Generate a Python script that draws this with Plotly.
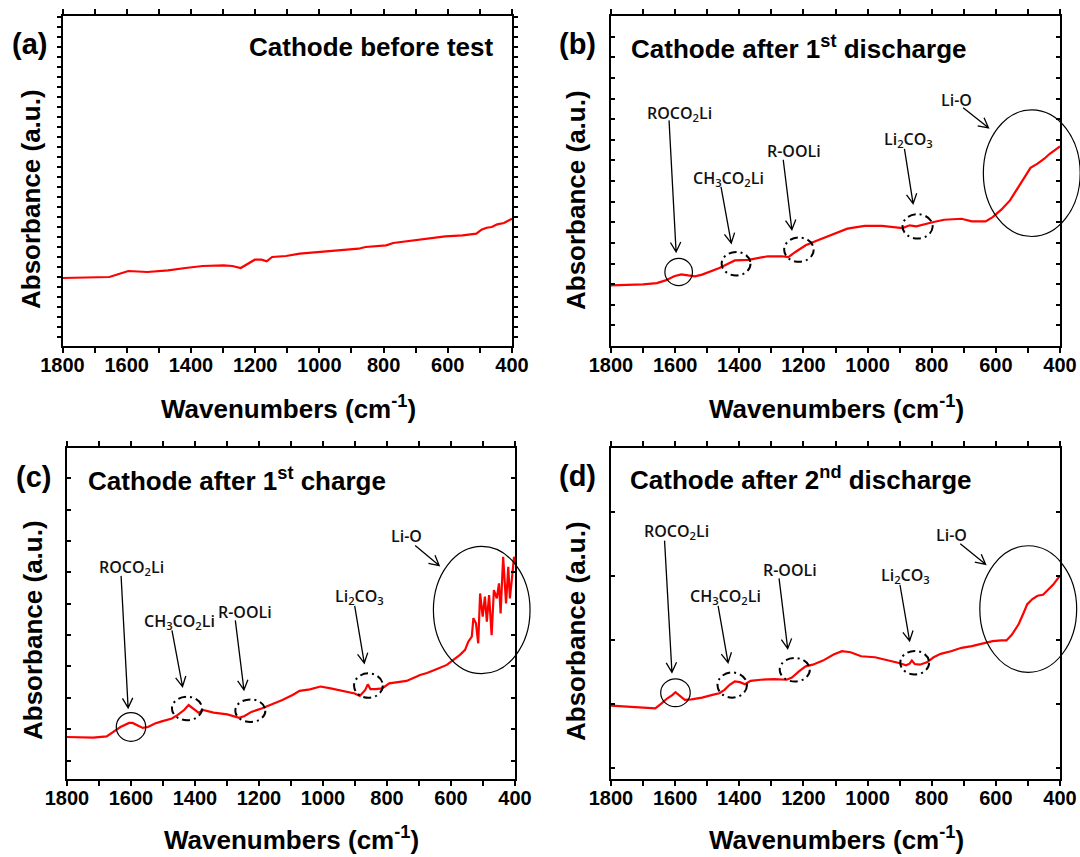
import math
import plotly.graph_objects as go

W, H = 1080, 857

# ---------------- data ----------------
wn_a = [1800, 1654, 1627, 1595, 1536, 1471, 1417, 1363, 1298, 1271, 1245, 1223, 1201, 1180,
        1164, 1147, 1104, 1061, 975, 878, 856, 792, 770, 705, 641, 608, 554, 511, 495, 479,
        463, 446, 425, 400]
abs_a = [6.80, 6.90, 7.17, 7.50, 7.40, 7.57, 7.80, 8.00, 8.07, 8.00, 7.80, 8.23, 8.63, 8.63,
         8.47, 8.90, 9.00, 9.23, 9.50, 9.73, 9.90, 10.07, 10.30, 10.57, 10.77, 10.97, 11.07,
         11.23, 11.63, 11.83, 11.90, 12.17, 12.30, 12.73]

wn_b = [1800, 1700, 1657, 1630, 1603, 1581, 1559, 1538, 1516, 1489, 1462, 1435, 1414, 1371,
        1355, 1311, 1268, 1247, 1225, 1193, 1161, 1117, 1063, 1009, 955, 891, 869, 848, 826,
        794, 761, 707, 675, 632, 610, 583, 556, 535, 513, 492, 470, 449, 432, 416, 400]
abs_b = [2.94, 2.99, 3.05, 3.18, 3.38, 3.47, 3.42, 3.38, 3.46, 3.63, 3.78, 3.99, 4.15, 4.18,
         4.23, 4.35, 4.35, 4.31, 4.56, 4.88, 5.09, 5.36, 5.69, 5.82, 5.82, 5.72, 5.85, 5.80,
         5.90, 6.01, 6.12, 6.17, 6.04, 6.04, 6.25, 6.61, 7.06, 7.58, 8.11, 8.64, 8.84, 9.08,
         9.32, 9.52, 9.68]

wn_c = [1800, 1762, 1719, 1676, 1655, 1633, 1606, 1595, 1579, 1563, 1547, 1525, 1504, 1472,
        1455, 1434, 1420, 1405, 1388, 1375, 1342, 1299, 1262, 1245, 1224, 1192, 1159, 1127,
        1095, 1073, 1041, 1008, 976, 933, 901, 885, 868, 860, 852, 836, 815, 793, 772, 739,
        707, 697, 675, 655, 642, 613, 593, 572, 556, 546, 535, 530, 522, 515, 509, 501, 494,
        488, 481, 473, 466, 457, 450, 445, 437, 428, 421, 416, 408, 403, 400]
abs_c = [1.34, 1.34, 1.32, 1.36, 1.50, 1.66, 1.79, 1.79, 1.71, 1.63, 1.66, 1.77, 1.84, 1.93,
         2.04, 2.20, 2.36, 2.25, 2.11, 2.20, 2.12, 2.06, 1.95, 2.01, 2.14, 2.25, 2.38, 2.52,
         2.68, 2.81, 2.86, 2.95, 2.89, 2.81, 2.73, 2.65, 2.84, 3.02, 2.87, 2.87, 2.89, 3.05,
         3.09, 3.13, 3.27, 3.32, 3.38, 3.45, 3.52, 3.64, 3.80, 3.96, 4.12, 4.38, 4.54, 5.13,
         4.97, 4.33, 5.92, 5.18, 5.82, 5.02, 5.87, 4.59, 6.03, 5.76, 6.24, 5.28, 7.09, 5.60,
         6.77, 5.76, 6.56, 7.09, 6.90]

wn_d = [1800, 1743, 1700, 1662, 1646, 1624, 1608, 1599, 1586, 1570, 1549, 1516, 1484, 1462,
        1446, 1430, 1414, 1398, 1382, 1365, 1333, 1290, 1252, 1236, 1214, 1193, 1171, 1139,
        1106, 1080, 1053, 1020, 977, 945, 902, 880, 869, 862, 853, 837, 815, 794, 772, 740,
        707, 675, 643, 610, 583, 567, 551, 529, 513, 502, 486, 470, 453, 437, 421, 410, 400]
abs_d = [1.147, 1.132, 1.116, 1.105, 1.168, 1.263, 1.316, 1.358, 1.305, 1.237, 1.247, 1.274,
         1.316, 1.342, 1.395, 1.474, 1.526, 1.516, 1.484, 1.537, 1.553, 1.563, 1.553, 1.589,
         1.684, 1.763, 1.789, 1.853, 1.947, 2.000, 1.984, 1.921, 1.905, 1.868, 1.816, 1.779,
         1.805, 1.853, 1.800, 1.789, 1.826, 1.905, 1.958, 2.000, 2.053, 2.079, 2.121, 2.158,
         2.168, 2.168, 2.253, 2.421, 2.605, 2.737, 2.816, 2.868, 2.884, 2.958, 3.042, 3.116,
         3.184]

x_tickvals = [1800, 1600, 1400, 1200, 1000, 800, 600, 400]
x_ticktext = ["1800", "1600", "1400", "1200", "1000", "800", "600", "400"]

labels = ["ROCO<sub>2</sub>Li", "CH<sub>3</sub>CO<sub>2</sub>Li", "R-OOLi",
          "Li<sub>2</sub>CO<sub>3</sub>", "Li-O"]

# ---------------- layout geometry ----------------
def px_x(p):
    return p / W

def px_y(p):
    return 1 - p / H

panels = {
    "a": dict(xd=[px_x(62.5), px_x(512)], yd=[px_y(346), px_y(16)], yr=[0, 33], tick0=0.9,
              yticks="outside", title="Cathode before test", letter="(a)",
              tpos=(247, 47), lpos=(29, 44), ytpos=(31, 199), xtpos=(288, 407)),
    "b": dict(xd=[px_x(611), px_x(1060)], yd=[px_y(346), px_y(16)], yr=[0, 16], tick0=0,
              yticks="inside", title="Cathode after 1<sup>st</sup> discharge", letter="(b)",
              tpos=(629, 48), lpos=(577, 44), ytpos=(576, 200), xtpos=(836, 407)),
    "c": dict(xd=[px_x(67), px_x(515)], yd=[px_y(779), px_y(448)], yr=[0, 10.56], tick0=0.59,
              yticks="inside", title="Cathode after 1<sup>st</sup> charge", letter="(c)",
              tpos=(86, 480), lpos=(33, 477), ytpos=(33, 630), xtpos=(291, 838)),
    "d": dict(xd=[px_x(611), px_x(1060)], yd=[px_y(779), px_y(448)], yr=[0, 5.18], tick0=0.18,
              yticks="inside", title="Cathode after 2<sup>nd</sup> discharge", letter="(d)",
              tpos=(628, 478), lpos=(577, 476), ytpos=(576, 631), xtpos=(836, 838)),
}
series = {"a": (wn_a, abs_a), "b": (wn_b, abs_b), "c": (wn_c, abs_c), "d": (wn_d, abs_d)}

# annotation geometry (data coordinates): text pos, arrow start, arrow end, ellipse (cx, cy, rx, ry, solid)
marks = {
    "b": [
        ((1586, 11.29), (1619, 10.94), (1597, 4.56), (1589, 3.59, 43, 0.66, True)),
        ((1433, 8.14), (1457, 7.71), (1425, 4.99), (1410, 3.99, 45, 0.57, False)),
        ((1230, 9.45), (1263, 9.03), (1236, 5.64), (1214, 4.67, 46, 0.59, False)),
        ((872, 10.02), (885, 9.56), (858, 6.90), (844, 5.80, 47, 0.59, False)),
        ((723, 11.95), (702, 11.55), (623, 10.58), (488, 8.38, 151, 3.07, True)),
    ],
    "c": [
        ((1599, 6.75), (1631, 6.48), (1609, 2.27), (1600, 1.66, 46, 0.46, True)),
        ((1448, 5.02), (1472, 4.74), (1439, 2.95), (1425, 2.25, 47, 0.375, False)),
        ((1243, 5.33), (1274, 5.06), (1247, 2.84), (1227, 2.18, 47, 0.36, False)),
        ((885, 5.82), (901, 5.52), (871, 3.70), (858, 2.98, 45, 0.39, False)),
        ((739, 7.74), (712, 7.45), (637, 6.81), (504, 5.39, 151, 2.03, True)),
    ],
    "d": [
        ((1597, 3.87), (1633, 3.73), (1610, 1.67), (1599, 1.35, 46, 0.218, True)),
        ((1444, 2.85), (1466, 2.71), (1435, 1.82), (1422, 1.47, 46, 0.197, False)),
        ((1243, 3.27), (1276, 3.14), (1249, 2.04), (1227, 1.71, 47, 0.184, False)),
        ((883, 3.18), (899, 3.04), (869, 2.16), (853, 1.82, 45, 0.184, False)),
        ((737, 3.82), (711, 3.68), (632, 3.36), (499, 2.66, 151, 0.99, True)),
    ],
}

FONT = "Liberation Sans, Arial, sans-serif"
LFONT = "Open Sans, sans-serif"

fig = go.Figure()
layout = dict(width=W, height=H, margin=dict(l=0, r=0, t=0, b=0, pad=0, autoexpand=False),
              paper_bgcolor="white", plot_bgcolor="white", showlegend=False)
annotations = []
shapes = []


def to_px(p, wn, yv):
    """data -> pixel (for decorations only)"""
    P = panels[p]
    fx = (1800 - wn) / 1400
    fy = (yv - P["yr"][0]) / (P["yr"][1] - P["yr"][0])
    xp = P["xd"][0] + fx * (P["xd"][1] - P["xd"][0])
    yp = P["yd"][0] + fy * (P["yd"][1] - P["yd"][0])
    return xp * W, (1 - yp) * H


def pp(x, y):
    return "%.5f,%.5f" % (x / W, 1 - y / H)


for i, key in enumerate(["a", "b", "c", "d"]):
    P = panels[key]
    n = "" if i == 0 else str(i + 1)
    wn, ab = series[key]
    fig.add_trace(go.Scatter(x=wn, y=ab, mode="lines", xaxis="x" + n, yaxis="y" + n,
                             line=dict(color="#ff0000", width=2.2), hoverinfo="skip"))
    layout["xaxis" + n] = dict(
        domain=P["xd"], anchor="y" + n, range=[1800, 400], autorange=False,
        tickmode="array", tickvals=x_tickvals, ticktext=x_ticktext,
        ticks="outside", ticklen=5, tickwidth=1.5, tickcolor="black",
        ticklabelstandoff=-5,
        minor=dict(tickmode="linear", tick0=1700, dtick=200, ticks="outside", ticklen=5,
                   tickwidth=1.5, tickcolor="black"),
        showline=True, linecolor="black", linewidth=2, mirror="ticks",
        showgrid=False, zeroline=False, automargin=False,
        tickfont=dict(family=FONT, size=20, color="black", weight="bold"))
    layout["yaxis" + n] = dict(
        domain=P["yd"], anchor="x" + n, range=P["yr"], autorange=False,
        tickmode="linear", tick0=P["tick0"], dtick=1, showticklabels=False,
        ticks=P["yticks"], ticklen=4, tickwidth=1.5, tickcolor="black",
        showline=True, linecolor="black", linewidth=2, mirror="ticks",
        showgrid=False, zeroline=False, automargin=False)
    # panel title, letter, axis titles
    annotations.append(dict(text=P["title"], xref="paper", yref="paper",
                            x=px_x(P["tpos"][0]), y=px_y(P["tpos"][1]), xanchor="left",
                            yanchor="middle", showarrow=False,
                            font=dict(family=FONT, size=26, color="black", weight="bold")))
    annotations.append(dict(text=P["letter"], xref="paper", yref="paper",
                            x=px_x(P["lpos"][0]), y=px_y(P["lpos"][1]), xanchor="center",
                            yanchor="middle", showarrow=False,
                            font=dict(family=FONT, size=29, color="black", weight="bold")))
    annotations.append(dict(text="Absorbance (a.u.)", xref="paper", yref="paper",
                            x=px_x(P["ytpos"][0]), y=px_y(P["ytpos"][1]), xanchor="center",
                            yanchor="middle", textangle=-90, showarrow=False,
                            font=dict(family=FONT, size=26, color="black", weight="bold")))
    annotations.append(dict(text="Wavenumbers (cm<sup>-1</sup>)", xref="paper", yref="paper",
                            x=px_x(P["xtpos"][0]), y=px_y(P["xtpos"][1]), xanchor="center",
                            yanchor="middle", showarrow=False,
                            font=dict(family=FONT, size=26, color="black", weight="bold")))
    if key in marks:
        for lab, (tp, a0, a1, ell) in zip(labels, marks[key]):
            annotations.append(dict(text=lab, xref="x" + n, yref="y" + n, x=tp[0], y=tp[1],
                                    xanchor="center", yanchor="middle", showarrow=False,
                                    font=dict(family=LFONT, size=16, color="#111111",
                                              weight=600)))
            # arrow: shaft + open V head
            sx, sy = to_px(key, *a0)
            ex, ey = to_px(key, *a1)
            ang = math.atan2(ey - sy, ex - sx)
            hl, ha = 11, math.radians(28)
            h1 = (ex - hl * math.cos(ang - ha), ey - hl * math.sin(ang - ha))
            h2 = (ex - hl * math.cos(ang + ha), ey - hl * math.sin(ang + ha))
            path = ("M" + pp(sx, sy) + "L" + pp(ex, ey) +
                    "M" + pp(*h1) + "L" + pp(ex, ey) + "L" + pp(*h2))
            shapes.append(dict(type="path", xref="paper", yref="paper", path=path,
                               line=dict(color="black", width=1.3)))
            cx, cy, rx, ry, solid = ell
            x0, y0 = to_px(key, cx + rx, cy - ry)
            x1, y1 = to_px(key, cx - rx, cy + ry)
            shapes.append(dict(type="circle", xref="paper", yref="paper",
                               x0=x0 / W, y0=1 - y0 / H, x1=x1 / W, y1=1 - y1 / H,
                               line=dict(color="black", width=1.2 if solid else 2,
                                         dash="solid" if solid else "8px,4px,2px,4px")))

layout["annotations"] = annotations
layout["shapes"] = shapes
fig.update_layout(**layout)
fig.write_html("out.html", config={"displayModeBar": False},
               post_script="document.body.style.margin='0px';document.body.style.overflow='hidden';")
